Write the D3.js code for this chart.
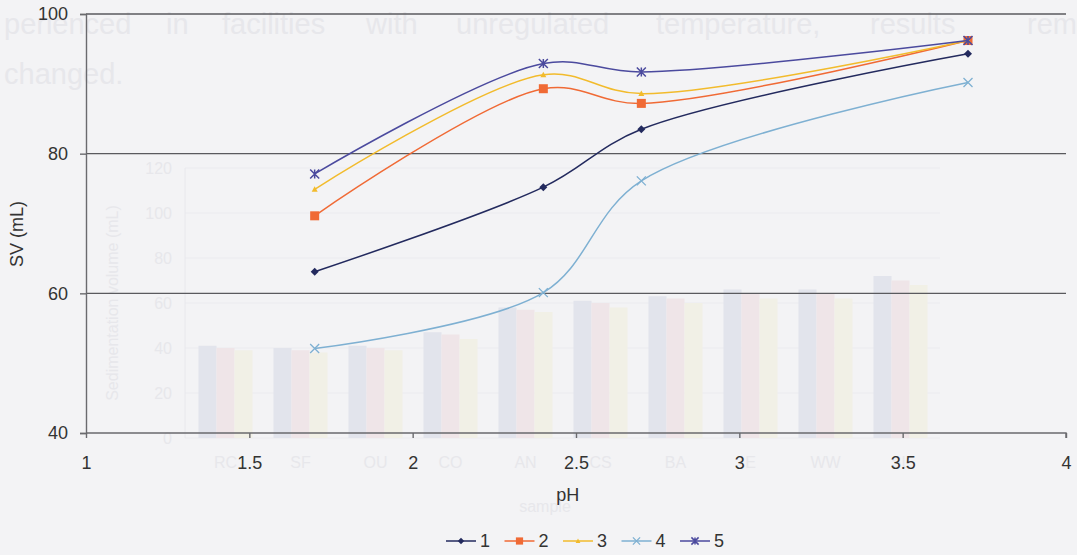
<!DOCTYPE html>
<html>
<head>
<meta charset="utf-8">
<script src="https://cdn.jsdelivr.net/npm/d3@7"></script>
<style>
  body { margin: 0; background: #f3f3f5; }
  svg { display: block; font-family: "Liberation Sans", Arial, sans-serif; }
</style>
</head>
<body>
<svg id="chart" width="1077" height="555"></svg>
<script>
///// Data

// pH values where SV was measured
let phValues = [1.7, 2.4, 2.7, 3.7];

// SV (mL) for each series
let series1 = [63.1, 75.2, 83.5, 94.3];
let series2 = [71.1, 89.3, 87.2, 96.2];
let series3 = [74.9, 91.3, 88.6, 96.2];
let series4 = [52.1, 60.1, 76.1, 90.2];
let series5 = [77.1, 92.9, 91.7, 96.2];

let seriesNames = ["1", "2", "3", "4", "5"];
let xTicks = [1, 1.5, 2, 2.5, 3, 3.5, 4];
let yTicks = [40, 60, 80, 100];

// show-through from the back of the scanned page
let ghostWords = ["perienced", "in", "facilities", "with", "unregulated", "temperature,", "results", "rem"];
let ghostCategories = ["RC", "SF", "OU", "CO", "AN", "CS", "BA", "E", "WW", "SL"];
let ghostA = [41, 40, 41, 47, 58, 61, 63, 66, 66, 72];
let ghostB = [40, 39, 40, 46, 57, 60, 62, 64, 64, 70];
let ghostC = [39, 38, 39, 44, 56, 58, 60, 62, 62, 68];
let ghostTicks = [0, 20, 40, 60, 80, 100, 120];

///// Setup

let svg = d3.select("#chart");

let x = d3.scaleLinear().domain([1, 4]).range([86, 1066]);
let y = d3.scaleLinear().domain([40, 100]).range([433, 14]);

let styles = [
    { color: "#232a5e", marker: "diamond" },
    { color: "#f06a35", marker: "square" },
    { color: "#f2bb2c", marker: "triangle" },
    { color: "#7eb0d2", marker: "x" },
    { color: "#4b4a9e", marker: "star" }
];

let allSeries = [series1, series2, series3, series4, series5];

///// Ghost layer

let ghost = svg.append("g").attr("class", "ghost");
let ghostInk = "#e7e7eb";

let wordX = [4, 166, 222, 366, 456, 656, 870, 1027];
ghost.selectAll(".gw")
    .data(ghostWords)
    .enter().append("text")
    .attr("x", function(d, i) { return wordX[i]; })
    .attr("y", 34)
    .attr("font-size", 29)
    .attr("fill", ghostInk)
    .text(function(d) { return d; });

ghost.append("text")
    .attr("x", 4).attr("y", 84)
    .attr("font-size", 29)
    .attr("fill", ghostInk)
    .text("changed.");

let gx = d3.scaleBand().domain(ghostCategories).range([188, 938]).paddingInner(0.28).paddingOuter(0.14);
let gy = d3.scaleLinear().domain([0, 120]).range([438, 168]);
let gsub = d3.scaleBand().domain([0, 1, 2]).range([0, gx.bandwidth()]);
let gcolors = ["#e2e4ec", "#efe5e8", "#f1f0e6"];

ghost.selectAll(".gt")
    .data(ghostTicks)
    .enter().append("line")
    .attr("x1", 185).attr("x2", 940)
    .attr("y1", function(d) { return gy(d); })
    .attr("y2", function(d) { return gy(d); })
    .attr("stroke", "#ebebef");

ghost.append("line")
    .attr("x1", 185).attr("x2", 185)
    .attr("y1", gy(120)).attr("y2", gy(0))
    .attr("stroke", "#e8e8ec");

ghost.selectAll(".gl")
    .data(ghostTicks)
    .enter().append("text")
    .attr("x", 172)
    .attr("y", function(d) { return gy(d) + 6; })
    .attr("text-anchor", "end")
    .attr("font-size", 16)
    .attr("fill", ghostInk)
    .text(function(d) { return d; });

[ghostA, ghostB, ghostC].forEach(function(vals, k) {
    ghost.selectAll(".gb" + k)
        .data(vals)
        .enter().append("rect")
        .attr("x", function(d, i) { return gx(ghostCategories[i]) + gsub(k); })
        .attr("y", function(d) { return gy(d); })
        .attr("width", gsub.bandwidth())
        .attr("height", function(d) { return gy(0) - gy(d); })
        .attr("fill", gcolors[k]);
});

ghost.selectAll(".gc")
    .data(ghostCategories)
    .enter().append("text")
    .attr("x", function(d) { return gx(d) + gx.bandwidth() / 2; })
    .attr("y", 468)
    .attr("text-anchor", "middle")
    .attr("font-size", 16)
    .attr("fill", ghostInk)
    .text(function(d) { return d; });

ghost.append("text")
    .attr("x", 545).attr("y", 512)
    .attr("text-anchor", "middle")
    .attr("font-size", 16)
    .attr("fill", ghostInk)
    .text("sample");

ghost.append("text")
    .attr("transform", "translate(118,303) rotate(-90)")
    .attr("text-anchor", "middle")
    .attr("font-size", 16)
    .attr("fill", ghostInk)
    .text("Sedimentation volume (mL)");

///// Axes and grid

svg.selectAll(".grid")
    .data(yTicks.slice(1))
    .enter().append("line")
    .attr("x1", x(1)).attr("x2", x(4))
    .attr("y1", function(d) { return y(d); })
    .attr("y2", function(d) { return y(d); })
    .attr("stroke", "#5a5a5e")
    .attr("stroke-width", 1.4);

let xAxis = svg.append("g")
    .attr("transform", "translate(0," + y(40) + ")")
    .call(d3.axisBottom(x).tickValues(xTicks).tickSize(5).tickPadding(18)
        .tickFormat(function(d) { return d; }));

let yAxis = svg.append("g")
    .attr("transform", "translate(" + x(1) + ",0)")
    .call(d3.axisLeft(y).tickValues(yTicks).tickSize(6).tickPadding(12));

[xAxis, yAxis].forEach(function(a) {
    a.select(".domain").attr("stroke", "#6a6a6e").attr("stroke-width", 1.4);
    a.selectAll(".tick line").attr("stroke", "#6a6a6e").attr("stroke-width", 1.4);
    a.selectAll(".tick text").attr("font-size", 18).attr("fill", "#333");
});
xAxis.select(".domain").attr("d", "M" + x(1) + ",0H" + x(4) + "V5");

svg.append("text")
    .attr("x", x(2.475)).attr("y", 501)
    .attr("text-anchor", "middle")
    .attr("font-size", 18).attr("fill", "#333")
    .text("pH");

svg.append("text")
    .attr("transform", "translate(23," + y(68.5) + ") rotate(-90)")
    .attr("text-anchor", "middle")
    .attr("font-size", 18).attr("fill", "#333")
    .text("SV (mL)");

///// Lines and markers

let line = d3.line()
    .x(function(d, i) { return x(phValues[i]); })
    .y(function(d) { return y(d); })
    .curve(d3.curveCatmullRom.alpha(0.5));

function drawMarker(g, type, color, size) {
    let s = size;
    if (type === "diamond") {
        g.append("path").attr("d", "M0," + (-s) + "L" + s + ",0L0," + s + "L" + (-s) + ",0Z")
            .attr("fill", color);
    } else if (type === "square") {
        g.append("rect").attr("x", -s).attr("y", -s).attr("width", 2 * s).attr("height", 2 * s)
            .attr("fill", color);
    } else if (type === "triangle") {
        g.append("path").attr("d", "M0," + (-s) + "L" + s + "," + (s * 0.8) + "L" + (-s) + "," + (s * 0.8) + "Z")
            .attr("fill", color);
    } else if (type === "x") {
        g.append("path").attr("d", "M" + (-s) + "," + (-s) + "L" + s + "," + s + "M" + (-s) + "," + s + "L" + s + "," + (-s))
            .attr("stroke", color).attr("stroke-width", 1.3).attr("fill", "none");
    } else {
        g.append("path").attr("d", "M" + (-s) + "," + (-s) + "L" + s + "," + s + "M" + (-s) + "," + s + "L" + s + "," + (-s) + "M0," + (-s) + "V" + s)
            .attr("stroke", color).attr("stroke-width", 1.5).attr("fill", "none");
    }
}

let markerSize = { diamond: 4, square: 4.5, triangle: 3, x: 4.5, star: 4.5 };

allSeries.forEach(function(vals, k) {
    let st = styles[k];
    svg.append("path")
        .datum(vals)
        .attr("fill", "none")
        .attr("stroke", st.color)
        .attr("stroke-width", 1.5)
        .attr("d", line);

    vals.forEach(function(v, i) {
        let g = svg.append("g").attr("transform", "translate(" + x(phValues[i]) + "," + y(v) + ")");
        drawMarker(g, st.marker, st.color, markerSize[st.marker]);
    });
});

///// Legend

let legend = svg.append("g").attr("transform", "translate(446,541)");
seriesNames.forEach(function(name, k) {
    let st = styles[k];
    let g = legend.append("g").attr("transform", "translate(" + (k * 58.5) + ",0)");
    g.append("line").attr("x1", 0).attr("x2", 30).attr("stroke", st.color).attr("stroke-width", 1.5);
    let m = g.append("g").attr("transform", "translate(15,0)");
    drawMarker(m, st.marker, st.color, markerSize[st.marker] * 0.8);
    g.append("text").attr("x", 34).attr("y", 6)
        .attr("font-size", 18).attr("fill", "#333")
        .text(name);
});
</script>
</body>
</html>
